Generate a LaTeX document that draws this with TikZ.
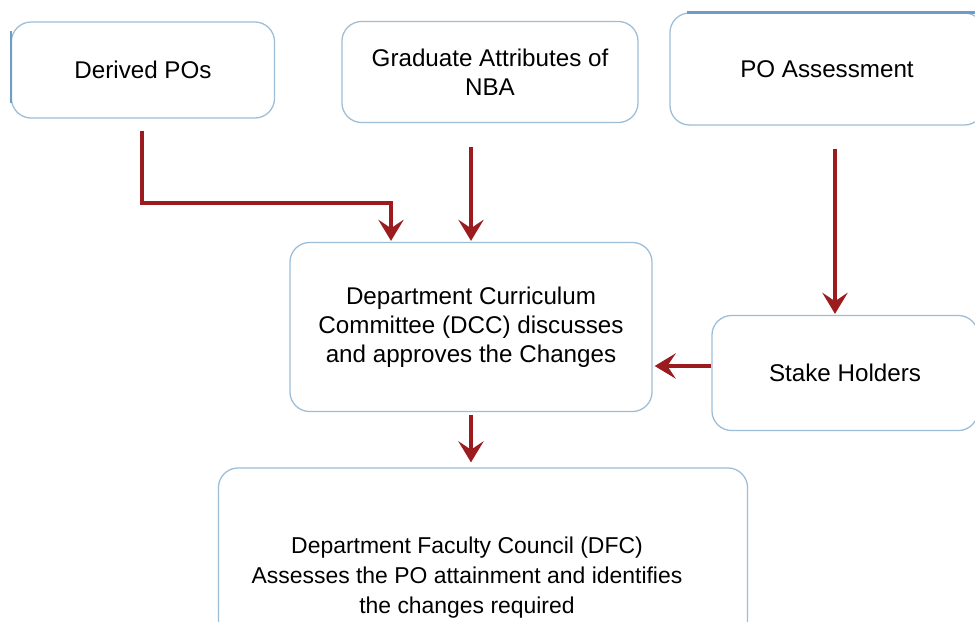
\documentclass[tikz,border=0pt]{standalone}
\usepackage{fontspec}
\setmainfont{Liberation Sans}
\usepackage{tikz}
\usetikzlibrary{arrows.meta, positioning, calc}
\usepackage{xcolor}

\definecolor{boxline}{HTML}{9DBDD6}
\definecolor{boxedge}{HTML}{6E9CC6}
\definecolor{flowred}{HTML}{9B1B1E}

\tikzset{
  box/.style={draw=boxline, line width=0.9pt, rounded corners=14pt, fill=white,
    align=center, font=\fontsize{17.2}{20.5}\selectfont, inner sep=4pt},
  flow/.style={draw=flowred, line width=2.8pt,
    -{Stealth[length=15pt,width=18pt,inset=6pt]}},
  boxrim/.style={draw=boxedge, line width=1.8pt}
}

\begin{document}
\begin{tikzpicture}[x=0.025cm, y=-0.025cm]
  \useasboundingbox (0,0) rectangle (975,621);
  \clip (0,0) rectangle (975,621);
  \fill[white] (0,0) rectangle (975,621);

  % top row
  \node[box, minimum width=6.575cm, minimum height=2.4cm] (derived) at (143,70) {Derived POs};
  \node[box, minimum width=7.4cm, minimum height=2.525cm] (grad) at (490,72) {Graduate Attributes of\\NBA};
  \node[box, minimum width=7.85cm, minimum height=2.8cm] (poa) at (827,69) {PO Assessment};

  % middle row
  \node[box, minimum width=9.05cm, minimum height=4.225cm] (dcc) at (471,327)
    {Department Curriculum\\Committee (DCC) discusses\\and approves the Changes};
  \node[box, minimum width=6.65cm, minimum height=2.875cm] (stake) at (845,373) {Stake Holders};

  % bottom, text sits a little left of the middle
  \node[box, minimum width=13.225cm, minimum height=5.5cm,
        label={[align=center, font=\fontsize{16.3}{21.3}\selectfont, xshift=-0.4cm]center:%
          Department Faculty Council (DFC)\\Assesses the PO attainment and identifies\\the changes required}]
    (dfc) at (483,578) {};

  % darker rims on the cut edges
  \draw[boxrim] ($(derived.north west)+(0,10)$) -- ($(derived.south west)+(0,-16)$);
  \draw[boxrim] ($(poa.north west)+(18,0)$) -- ($(poa.north east)+(-10,0)$);

  % connectors
  \draw[flow] ($(derived.south)+(-1,12)$) -- ++(0,72) -| ($(dcc.north)+(-80,-1)$);
  \draw[flow] ($(grad.south -| dcc.north)+(0,24)$) -- ($(dcc.north)+(0,-1)$);
  \draw[flow] ($(poa.south)+(8,23)$) -- ($(stake.north -| poa.south)+(8,-1)$);
  \draw[flow] ($(stake.west)+(0,-7)$) -- ($(dcc.east |- stake.west)+(2,-7)$);
  \draw[flow] ($(dcc.south)+(0,3)$) -- ($(dfc.north -| dcc.south)+(0,-5)$);
\end{tikzpicture}
\end{document}
